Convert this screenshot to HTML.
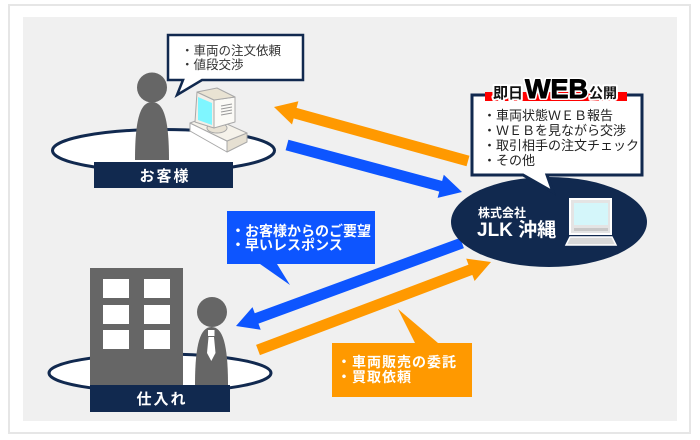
<!DOCTYPE html>
<html><head><meta charset="utf-8"><style>
html,body{margin:0;padding:0;background:#fff;}
svg{display:block;}
text{font-family:"Liberation Sans","Noto Sans CJK JP",sans-serif;}
</style></head><body>
<svg width="700" height="440" viewBox="0 0 700 440" xmlns="http://www.w3.org/2000/svg">
<rect x="9" y="5" width="681" height="428" fill="#fff" stroke="#e6e6e6" stroke-width="2"/>
<rect x="23" y="17" width="654" height="404" fill="#f0f0f0"/>

<!-- arrows -->
<line x1="468" y1="161" x2="291" y2="112" stroke="#ff9900" stroke-width="11"/>
<polygon points="274,107 298.4,101.3 292,124.5" fill="#ff9900"/>
<line x1="287" y1="145" x2="444.6" y2="187.3" stroke="#0d55ff" stroke-width="11"/>
<polygon points="462,192 437.6,197.9 443.8,174.7" fill="#0d55ff"/>
<line x1="462" y1="243" x2="252.9" y2="319.8" stroke="#0d55ff" stroke-width="11"/>
<polygon points="236,326 252.5,307.1 260.7,329.7" fill="#0d55ff"/>
<line x1="258" y1="350" x2="474.2" y2="268.4" stroke="#ff9900" stroke-width="11"/>
<polygon points="491,262 474.6,281 466.2,258.6" fill="#ff9900"/>

<!-- customer group -->
<ellipse cx="163.5" cy="150.5" rx="111" ry="21" fill="#fff" stroke="#11294f" stroke-width="3"/>
<circle cx="152" cy="87.5" r="15" fill="#666"/>
<path d="M135,160 C135,120 140,102 152,102 C164,102 169,120 169,160 Z" fill="#666"/>
<!-- computer -->
<g stroke="#a8a8a8" stroke-width="1" stroke-linejoin="round">
<polygon points="190,123 227,141 227,152 190,131" fill="#fff"/>
<polygon points="227,141 247,133 247,142 227,152" fill="#e6e0d2"/>
<polygon points="190,123 209,116 247,133 227,141" fill="#f5f2ea"/>
<ellipse cx="217" cy="128" rx="10" ry="5" fill="#e8e2d4"/>
<polygon points="197,92 214,100 214,128 195,122" fill="#f2efe8"/>
<polygon points="214,100 235,97 235,122 214,128" fill="#fbfaf6"/>
<polygon points="197,92 217,88 235,97 214,100" fill="#e9e3d3"/>
</g>
<polygon points="198,97 212,103 212,125 198,120" fill="#7ff6ff"/>
<g stroke="#999" stroke-width="1">
<line x1="221" y1="106" x2="232" y2="104"/>
<line x1="221" y1="109" x2="232" y2="107"/>
<line x1="221" y1="112" x2="232" y2="110"/>
<line x1="221" y1="115" x2="232" y2="113"/>
</g>
<rect x="94" y="162" width="139" height="26" fill="#11294f"/>
<text x="165" y="181" font-size="15" font-weight="bold" fill="#fff" text-anchor="middle" letter-spacing="2">お客様</text>

<!-- customer bubble -->
<path d="M168,35 H303 V80 H202 L177,95 L183,80 H168 Z" fill="#fff" stroke="#11294f" stroke-width="2.5" stroke-linejoin="miter"/>
<text x="181" y="55" font-size="12.5" fill="#333">・車両の注文依頼</text>
<text x="181" y="69" font-size="12.5" fill="#333">・値段交渉</text>

<!-- JLK -->
<ellipse cx="549" cy="222" rx="98" ry="45" fill="#11294f"/>
<text x="478" y="217" font-size="12" font-weight="bold" fill="#fff">株式会社</text>
<text x="477" y="236" font-size="19" font-weight="bold" fill="#fff">JLK 沖縄</text>
<rect x="570" y="199" width="41" height="35" fill="#e4e4e4" stroke="#fff" stroke-width="2"/>
<rect x="574" y="203" width="34" height="22" fill="#d4f6fa"/>
<rect x="574" y="228" width="34" height="3" fill="#c8c8c8"/>
<polygon points="570,237 612,237 616,245 566,245" fill="#d9d9d9" stroke="#fff" stroke-width="1.5"/>

<!-- WEB bubble -->
<path d="M472,95 H642 V175 H547 L553,192 L523,175 H472 Z" fill="#fff" stroke="#11294f" stroke-width="3"/>
<rect x="485" y="92" width="142" height="9" fill="#ff0000"/>
<g font-weight="bold" fill="#111" stroke="#fff" stroke-width="4" paint-order="stroke" stroke-linejoin="round">
<text x="493" y="98" font-size="15">即日</text>
<text x="525" y="98" font-size="27">WEB</text>
<text x="589" y="98" font-size="14">公開</text>
</g>
<text x="525" y="98" font-size="27" font-weight="bold" fill="#000" stroke="#000" stroke-width="0.9" stroke-linejoin="round">WEB</text>
<text x="483" y="120" font-size="13" fill="#222">・車両状態ＷＥＢ報告</text>
<text x="483" y="135" font-size="13" fill="#222">・ＷＥＢを見ながら交渉</text>
<text x="483" y="150" font-size="13" fill="#222">・取引相手の注文チェック</text>
<text x="483" y="165" font-size="13" fill="#222">・その他</text>

<!-- blue callout -->
<path d="M227,211 H375 V264 H277 L290,285 L260,264 H227 Z" fill="#0d55ff"/>
<text x="231" y="236" font-size="14" font-weight="bold" fill="#fff">・お客様からのご要望</text>
<text x="231" y="250" font-size="14" font-weight="bold" fill="#fff">・早いレスポンス</text>

<!-- orange callout -->
<path d="M332,343 H415 L398,309 L438,343 H472 V397 H332 Z" fill="#ff9900"/>
<text x="337" y="367" font-size="14" font-weight="bold" fill="#fff" letter-spacing="1">・車両販売の委託</text>
<text x="337" y="382" font-size="14" font-weight="bold" fill="#fff" letter-spacing="1">・買取依頼</text>

<!-- supplier group -->
<ellipse cx="160" cy="373" rx="111" ry="19" fill="#fff" stroke="#11294f" stroke-width="3"/>
<rect x="90" y="268" width="93" height="117" fill="#666"/>
<g fill="#fff">
<rect x="103" y="279" width="26" height="19"/>
<rect x="144" y="279" width="26" height="19"/>
<rect x="103" y="305" width="26" height="19"/>
<rect x="144" y="305" width="26" height="19"/>
<rect x="103" y="330" width="26" height="19"/>
<rect x="144" y="330" width="26" height="19"/>
</g>
<circle cx="212" cy="312" r="15" fill="#666"/>
<path d="M195,385 C195,345 200,327 211.5,327 C223,327 228,345 228,385 Z" fill="#666"/>
<rect x="208" y="330" width="6.5" height="6" fill="#fff"/>
<polygon points="208.5,337 214,337 215.5,353 211.3,361 207,353" fill="#fff"/>
<rect x="90" y="385" width="140" height="27" fill="#11294f"/>
<text x="162" y="404" font-size="15" font-weight="bold" fill="#fff" text-anchor="middle" letter-spacing="2">仕入れ</text>
</svg>
</body></html>
